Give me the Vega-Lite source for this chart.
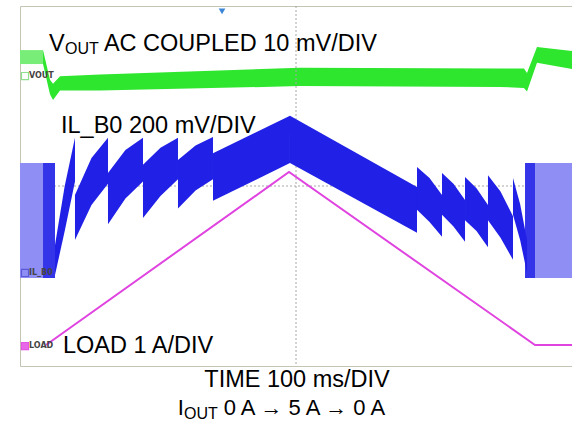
{
  "$schema": "https://vega.github.io/schema/vega-lite/v6.json",
  "width": 552,
  "height": 360,
  "autosize": {"type": "none"},
  "padding": {"left": 20, "top": 6, "right": 0, "bottom": 57},
  "background": "white",
  "config": {"view": {"stroke": "#c4c4b4", "strokeWidth": 1}, "font": "Liberation Sans"},
  "datasets": {
    "green": [
      {"phase": "a", "t": 0, "hi": 7.02, "lo": 6.71},
      {"phase": "a", "t": 41.7, "hi": 7.02, "lo": 6.71},
      {"phase": "b", "t": 41.7, "hi": 7.02, "lo": 6.71},
      {"phase": "b", "t": 54.3, "hi": 6.36, "lo": 6.04},
      {"phase": "b", "t": 59.8, "hi": 6.27, "lo": 5.91},
      {"phase": "b", "t": 72.5, "hi": 6.44, "lo": 6.12},
      {"phase": "b", "t": 144.9, "hi": 6.48, "lo": 6.12},
      {"phase": "b", "t": 507, "hi": 6.63, "lo": 6.22},
      {"phase": "b", "t": 869.6, "hi": 6.61, "lo": 6.2},
      {"phase": "b", "t": 913, "hi": 6.61, "lo": 6.18},
      {"phase": "b", "t": 918.5, "hi": 6.51, "lo": 6.1},
      {"phase": "b", "t": 936.6, "hi": 7.09, "lo": 6.74},
      {"phase": "b", "t": 1000, "hi": 7.0, "lo": 6.6}
    ],
    "blue": [
      {"seg": "L1", "t": 63.4, "hi": 2.69, "lo": 2.02},
      {"seg": "L1", "t": 81, "hi": 4.0, "lo": 3.0},
      {"seg": "L1", "t": 99.6, "hi": 5.07, "lo": 4.1},
      {"seg": "L2", "t": 99.6, "hi": 3.8, "lo": 2.8},
      {"seg": "L2", "t": 129.5, "hi": 4.62, "lo": 3.58},
      {"seg": "L2", "t": 159.4, "hi": 5.07, "lo": 4.05},
      {"seg": "L3", "t": 159.4, "hi": 4.29, "lo": 3.15},
      {"seg": "L3", "t": 191, "hi": 4.8, "lo": 3.72},
      {"seg": "L3", "t": 222.8, "hi": 5.07, "lo": 4.1},
      {"seg": "L4", "t": 222.8, "hi": 4.47, "lo": 3.29},
      {"seg": "L4", "t": 254.5, "hi": 4.85, "lo": 3.78},
      {"seg": "L4", "t": 286.2, "hi": 5.07, "lo": 4.15},
      {"seg": "L5", "t": 286.2, "hi": 4.58, "lo": 3.5},
      {"seg": "L5", "t": 318, "hi": 4.9, "lo": 3.9},
      {"seg": "L5", "t": 349.6, "hi": 5.09, "lo": 4.15},
      {"seg": "UP", "t": 349.6, "hi": 4.73, "lo": 3.67},
      {"seg": "UP", "t": 489.1, "hi": 5.56, "lo": 4.51},
      {"seg": "DN", "t": 489.1, "hi": 5.56, "lo": 4.51},
      {"seg": "DN", "t": 719.2, "hi": 3.98, "lo": 2.96},
      {"seg": "R1", "t": 719.2, "hi": 4.42, "lo": 3.47},
      {"seg": "R1", "t": 741.9, "hi": 4.18, "lo": 3.2},
      {"seg": "R1", "t": 764.5, "hi": 3.8, "lo": 2.87},
      {"seg": "R2", "t": 764.5, "hi": 4.29, "lo": 3.36},
      {"seg": "R2", "t": 785.3, "hi": 4.05, "lo": 3.1},
      {"seg": "R2", "t": 806.2, "hi": 3.69, "lo": 2.76},
      {"seg": "R3", "t": 806.2, "hi": 4.2, "lo": 3.24},
      {"seg": "R3", "t": 827, "hi": 3.95, "lo": 3.0},
      {"seg": "R3", "t": 847.8, "hi": 3.58, "lo": 2.64},
      {"seg": "R4", "t": 847.8, "hi": 4.24, "lo": 3.24},
      {"seg": "R4", "t": 870.5, "hi": 3.88, "lo": 2.85},
      {"seg": "R4", "t": 893.1, "hi": 3.33, "lo": 2.36},
      {"seg": "R5", "t": 893.1, "hi": 4.18, "lo": 3.36},
      {"seg": "R5", "t": 906, "hi": 3.6, "lo": 2.8},
      {"seg": "R5", "t": 918.5, "hi": 2.8, "lo": 2.07}
    ],
    "blocks": [
      {"part": "light", "t0": 0, "t1": 41.7, "lo": 1.956, "hi": 4.511},
      {"part": "dark", "t0": 41.7, "t1": 63.4, "lo": 1.956, "hi": 4.511},
      {"part": "dark", "t0": 914.9, "t1": 933, "lo": 1.956, "hi": 4.511},
      {"part": "light", "t0": 933, "t1": 1000, "lo": 1.956, "hi": 4.511}
    ],
    "load": [
      {"t": 47.1, "y": 0.467},
      {"t": 487.3, "y": 4.311},
      {"t": 933, "y": 0.467},
      {"t": 1000, "y": 0.467}
    ],
    "bigLabels": [
      {"text": "V", "t": 52.5, "y": 7.0},
      {"text": "AC COUPLED 10 mV/DIV", "t": 152, "y": 7.0},
      {"text": "IL_B0 200 mV/DIV", "t": 74.3, "y": 5.184},
      {"text": "LOAD 1 A/DIV", "t": 77.9, "y": 0.289}
    ],
    "bottomLabels": [
      {"text": "I", "t": 286, "y": -1.09},
      {"text": "0 A → 5 A → 0 A", "t": 369, "y": -1.09}
    ],
    "subLabels": [
      {"text": "OUT", "t": 81.5, "y": 6.94},
      {"text": "OUT", "t": 297, "y": -1.18}
    ],
    "centerLabels": [
      {"text": "TIME 100 ms/DIV", "t": 501.8, "y": -0.467}
    ],
    "markers": [
      {"ch": "VOUT", "t": 16.3, "y": 6.444},
      {"ch": "IL_B0", "t": 16.3, "y": 2.067},
      {"ch": "LOAD", "t": 16.3, "y": 0.444}
    ],
    "trigger": [{"t": 366, "y": 7.88}],
    "center": [{"t": 500, "y": 4}]
  },
  "layer": [
    {
      "data": {"name": "green"},
      "mark": {"type": "area"},
      "encoding": {
        "x": {"field": "t", "type": "quantitative", "scale": {"domain": [0, 1000], "nice": false, "zero": false},
          "axis": {"values": [100, 200, 300, 400, 500, 600, 700, 800, 900], "grid": true, "gridDash": [1, 4], "gridColor": "#b8b8b8", "labels": false, "ticks": false, "domain": false, "title": null}},
        "y": {"field": "hi", "type": "quantitative", "scale": {"domain": [0, 8], "nice": false, "zero": false},
          "axis": {"values": [1, 2, 3, 4, 5, 6, 7], "grid": true, "gridDash": [1, 4], "gridColor": "#b8b8b8", "labels": false, "ticks": false, "domain": false, "title": null}},
        "y2": {"field": "lo"},
        "color": {"field": "phase", "type": "nominal", "scale": {"domain": ["a", "b"], "range": ["#78ee78", "#2ee62e"]}, "legend": null}
      }
    },
    {
      "data": {"name": "center"},
      "mark": {"type": "rule", "color": "#a8a8a8", "strokeDash": [2, 2]},
      "encoding": {"x": {"field": "t", "type": "quantitative", "scale": {"domain": [0, 1000]}, "axis": null}}
    },
    {
      "data": {"name": "center"},
      "mark": {"type": "rule", "color": "#a8a8a8", "strokeDash": [2, 2]},
      "encoding": {"y": {"field": "y", "type": "quantitative", "scale": {"domain": [0, 8]}, "axis": null}}
    },
    {
      "data": {"name": "blocks"},
      "mark": {"type": "rect"},
      "encoding": {
        "x": {"field": "t0", "type": "quantitative", "scale": {"domain": [0, 1000]}, "axis": null},
        "x2": {"field": "t1"},
        "y": {"field": "hi", "type": "quantitative", "scale": {"domain": [0, 8]}, "axis": null},
        "y2": {"field": "lo"},
        "fill": {"field": "part", "type": "nominal", "scale": {"domain": ["light", "dark"], "range": ["#8e8ef4", "#3434e8"]}, "legend": null}
      }
    },
    {
      "data": {"name": "blue"},
      "mark": {"type": "area", "color": "#2020e6"},
      "encoding": {
        "x": {"field": "t", "type": "quantitative", "scale": {"domain": [0, 1000]}, "axis": null},
        "y": {"field": "hi", "type": "quantitative", "scale": {"domain": [0, 8]}, "axis": null},
        "y2": {"field": "lo"},
        "detail": {"field": "seg", "type": "nominal"}
      }
    },
    {
      "data": {"name": "load"},
      "mark": {"type": "line", "color": "#e044e0", "strokeWidth": 2},
      "encoding": {
        "x": {"field": "t", "type": "quantitative", "scale": {"domain": [0, 1000]}, "axis": null},
        "y": {"field": "y", "type": "quantitative", "scale": {"domain": [0, 8]}, "axis": null}
      }
    },
    {
      "data": {"name": "markers"},
      "mark": {"type": "point", "shape": "square", "size": 50, "filled": false, "fill": "#ffffff", "fillOpacity": 0, "strokeWidth": 1.2, "xOffset": -4, "opacity": 1},
      "encoding": {
        "x": {"field": "t", "type": "quantitative", "scale": {"domain": [0, 1000]}, "axis": null},
        "y": {"field": "y", "type": "quantitative", "scale": {"domain": [0, 8]}, "axis": null},
        "stroke": {"field": "ch", "type": "nominal", "scale": {"domain": ["VOUT", "IL_B0", "LOAD"], "range": ["#8ee08e", "#5a5ad8", "#e044e0"]}, "legend": null}
      }
    },
    {
      "data": {"name": "markers"},
      "transform": [{"filter": "datum.ch === 'LOAD'"}],
      "mark": {"type": "point", "shape": "square", "size": 50, "filled": true, "color": "#e866e8", "xOffset": -4, "opacity": 1},
      "encoding": {
        "x": {"field": "t", "type": "quantitative", "scale": {"domain": [0, 1000]}, "axis": null},
        "y": {"field": "y", "type": "quantitative", "scale": {"domain": [0, 8]}, "axis": null}
      }
    },
    {
      "data": {"name": "markers"},
      "mark": {"type": "text", "align": "left", "baseline": "middle", "fontSize": 8, "fontWeight": "bold", "color": "#444444", "font": "DejaVu Sans"},
      "encoding": {
        "x": {"field": "t", "type": "quantitative", "scale": {"domain": [0, 1000]}, "axis": null},
        "y": {"field": "y", "type": "quantitative", "scale": {"domain": [0, 8]}, "axis": null},
        "text": {"field": "ch"}
      }
    },
    {
      "data": {"name": "trigger"},
      "mark": {"type": "point", "shape": "triangle-down", "size": 45, "filled": true, "color": "#3d86d6", "opacity": 1},
      "encoding": {
        "x": {"field": "t", "type": "quantitative", "scale": {"domain": [0, 1000]}, "axis": null},
        "y": {"field": "y", "type": "quantitative", "scale": {"domain": [0, 8]}, "axis": null}
      }
    },
    {
      "data": {"name": "bigLabels"},
      "mark": {"type": "text", "align": "left", "baseline": "alphabetic", "fontSize": 23.5, "color": "#000000"},
      "encoding": {
        "x": {"field": "t", "type": "quantitative", "scale": {"domain": [0, 1000]}, "axis": null},
        "y": {"field": "y", "type": "quantitative", "scale": {"domain": [0, 8]}, "axis": null},
        "text": {"field": "text"}
      }
    },
    {
      "data": {"name": "bottomLabels"},
      "mark": {"type": "text", "align": "left", "baseline": "alphabetic", "fontSize": 22, "color": "#000000"},
      "encoding": {
        "x": {"field": "t", "type": "quantitative", "scale": {"domain": [0, 1000]}, "axis": null},
        "y": {"field": "y", "type": "quantitative", "scale": {"domain": [0, 8]}, "axis": null},
        "text": {"field": "text"}
      }
    },
    {
      "data": {"name": "subLabels"},
      "mark": {"type": "text", "align": "left", "baseline": "alphabetic", "fontSize": 16, "color": "#000000"},
      "encoding": {
        "x": {"field": "t", "type": "quantitative", "scale": {"domain": [0, 1000]}, "axis": null},
        "y": {"field": "y", "type": "quantitative", "scale": {"domain": [0, 8]}, "axis": null},
        "text": {"field": "text"}
      }
    },
    {
      "data": {"name": "centerLabels"},
      "mark": {"type": "text", "align": "center", "baseline": "alphabetic", "fontSize": 23.5, "color": "#000000"},
      "encoding": {
        "x": {"field": "t", "type": "quantitative", "scale": {"domain": [0, 1000]}, "axis": null},
        "y": {"field": "y", "type": "quantitative", "scale": {"domain": [0, 8]}, "axis": null},
        "text": {"field": "text"}
      }
    }
  ]
}
